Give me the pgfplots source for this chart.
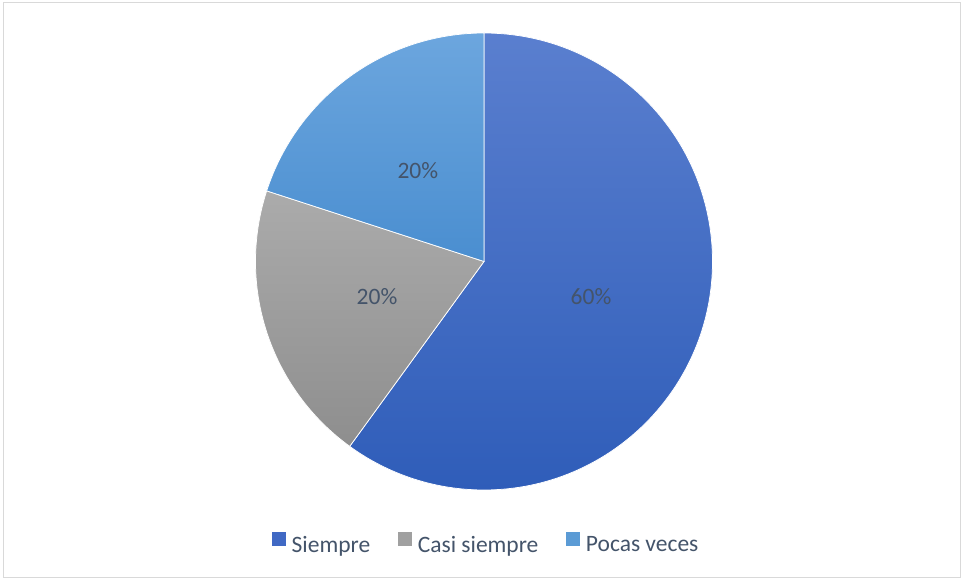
\documentclass[border=0pt]{standalone}
\usepackage{pgfplots}
\pgfplotsset{compat=1.18}
\usepackage{fontspec}
\setmainfont{Carlito}

\definecolor{txt}{HTML}{44546A}
\definecolor{frame}{HTML}{D9D9D9}
\definecolor{siemTop}{HTML}{5A7FCF}
\definecolor{siemBot}{HTML}{2F5DB9}
\definecolor{siemMid}{HTML}{4069C4}
\definecolor{casiTop}{HTML}{ABABAB}
\definecolor{casiBot}{HTML}{8E8E8E}
\definecolor{casiMid}{HTML}{A0A0A0}
\definecolor{pocTop}{HTML}{6CA6DE}
\definecolor{pocBot}{HTML}{4A8ED0}
\definecolor{pocMid}{HTML}{5B9BD5}

% shares in percent: Siempre, Casi siempre, Pocas veces
\def\vA{60}
\def\vB{20}
\def\vC{20}

\begin{document}
\begin{tikzpicture}
\begin{axis}[
  scale only axis, width=963bp, height=581bp,
  xmin=0, xmax=963, ymin=0, ymax=581,
  hide axis, clip=false,
  font=\fontsize{23.5bp}{28bp}\selectfont,
  legend columns=3,
  legend image code/.code={\fill[#1, draw=none] (0bp,-1bp) rectangle (13.5bp,12.5bp);},
  legend style={at={(axis cs:272,36)}, anchor=base west, draw=none, fill=none,
    inner sep=0pt, text=txt, font=\fontsize{23.5bp}{28bp}\selectfont,
    nodes={inner sep=0pt},
    /tikz/every odd column/.append style={column sep=6bp},
    /tikz/every even column/.append style={column sep=28bp}},
]
  \path (axis cs:0,0) rectangle (axis cs:963,581);
  \draw[frame, line width=1bp] (axis cs:3,3) rectangle (axis cs:960,578);

  \path[top color=siemTop, bottom color=siemBot, draw=white, line width=0.75bp]
    (axis cs:484,319.5) -- ++(90:228.5bp)
    arc[start angle=90, end angle={90-3.6*\vA}, radius=228.5bp] -- cycle;
  \path[top color=casiTop, bottom color=casiBot, draw=white, line width=0.75bp]
    (axis cs:484,319.5) -- ++({90-3.6*\vA}:228.5bp)
    arc[start angle={90-3.6*\vA}, end angle={90-3.6*(\vA+\vB)}, radius=228.5bp] -- cycle;
  \path[top color=pocTop, bottom color=pocBot, draw=white, line width=0.75bp]
    (axis cs:484,319.5) -- ++({90-3.6*(\vA+\vB)}:228.5bp)
    arc[start angle={90-3.6*(\vA+\vB)}, end angle={90-3.6*(\vA+\vB+\vC)}, radius=228.5bp] -- cycle;

  \node[text=txt] at (axis cs:{484+112.5*cos(90-1.8*\vA)},{319.5+112.5*sin(90-1.8*\vA)}) {\vA\%};
  \node[text=txt] at (axis cs:{484+112.5*cos(90-3.6*\vA-1.8*\vB)},{319.5+112.5*sin(90-3.6*\vA-1.8*\vB)}) {\vB\%};
  \node[text=txt] at (axis cs:{484+112.5*cos(90-3.6*(\vA+\vB)-1.8*\vC)},{319.5+112.5*sin(90-3.6*(\vA+\vB)-1.8*\vC)}) {\vC\%};

  \addlegendimage{fill=siemMid}
  \addlegendentry{Siempre}
  \addlegendimage{fill=casiMid}
  \addlegendentry{Casi siempre}
  \addlegendimage{fill=pocMid}
  \addlegendentry{Pocas veces}
\end{axis}
\end{tikzpicture}
\end{document}
